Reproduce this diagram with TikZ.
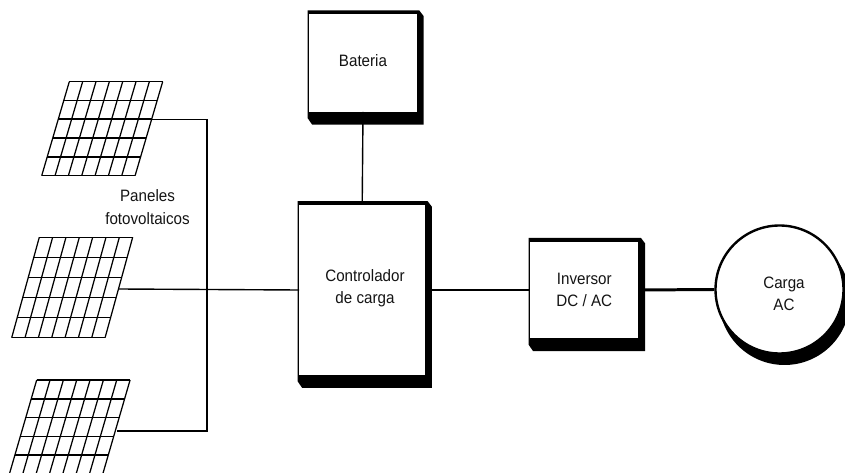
\documentclass[tikz,border=0pt]{standalone}
\usepackage{fontspec}
\setmainfont{Liberation Sans}[FakeStretch=0.92]
\usetikzlibrary{calc,backgrounds}
\definecolor{PVink}{RGB}{20,20,20}
\tikzset{
  unit/.style={fill=white,inner sep=0pt,align=center,text=PVink},
  load/.style={circle,draw=black,line width=2.4pt,fill=white,inner sep=0pt,
               minimum size=128bp},
  label/.style={align=center,text=PVink},
  grid/.style={line width=1.25pt,draw=black},
  gridh/.style={line width=1.6pt,draw=black},
  wire/.style={line width=1.4pt,draw=black},
  wireb/.style={line width=3pt,draw=black}
}
% panel: top left x, top y, height, skew
\newcommand{\panel}[4]{%
  \foreach \i in {0,...,7}
    \draw[grid] ({#1+\i*13.34},{#2}) -- ({#1+\i*13.34-#4},{#2+#3});
  \foreach \j in {0,...,5}
    \draw[gridh] ({#1-#4*\j/5},{#2+#3*\j/5}) -- ++(93.4,0);
}
\begin{document}
\begin{tikzpicture}[x=1bp,y=-1bp,font=\fontsize{16.5bp}{22.5bp}\selectfont]
  \useasboundingbox (0,0) rectangle (845,473);
  \clip (0,0) rectangle (845,473);
  \panel{69.3}{81.7}{94}{27.6}
  \panel{39.3}{237.3}{100.4}{27.6}
  \panel{36.7}{380}{94}{27.3}
  \coordinate (pv1) at (152,119.3);
  \coordinate (pv2) at (118.3,289);
  \coordinate (pv3) at (116.7,431);
  \coordinate (bus) at (207,431);
  \node[label] (pv) at (147.5,207) {Paneles\\fotovoltaicos};
  \node[unit,minimum width=107.4bp,minimum height=97.4bp] (bat) at (363,63) {\raisebox{5bp}{Bateria}};
  \node[unit,minimum width=125.7bp,minimum height=170bp] (ctrl) at (362.2,290) {};
  \node[label] (ctrltxt) at (365,288) {Controlador\\de carga};
  \node[unit,minimum width=108bp,minimum height=96.6bp] (inv) at (584.3,290) {Inversor\\DC / AC};
  \node[load] (ac) at (779.5,289.5) {};
  \node[label] (actxt) at (784,294) {Carga\\AC};
  \begin{scope}[on background layer]
    \foreach \n in {bat,ctrl,inv}
      \fill[black] ($(\n.north west)+(-1.6,-3.6)$) -- ($(\n.north east)+(2.4,-3.6)$)
        -- ($(\n.north east)+(6.7,2)$) -- ($(\n.south east)+(6.7,12.7)$)
        -- ($(\n.south west)+(3,12.7)$) -- ($(\n.south west)+(-1.6,6)$) -- cycle;
    \fill[black] (784.5,299.5) circle (65.5);
  \end{scope}
  \draw[wire] (pv1) -| (bus) -- (pv3);
  \draw[wire] (pv2) -- (ctrl.west);
  \draw[wire] (bat.south) -- (ctrl.north);
  \draw[wireb] (ctrl.east) -- (inv.west);
  \draw[wireb] (inv.east) -- (ac.west);
\end{tikzpicture}
\end{document}
